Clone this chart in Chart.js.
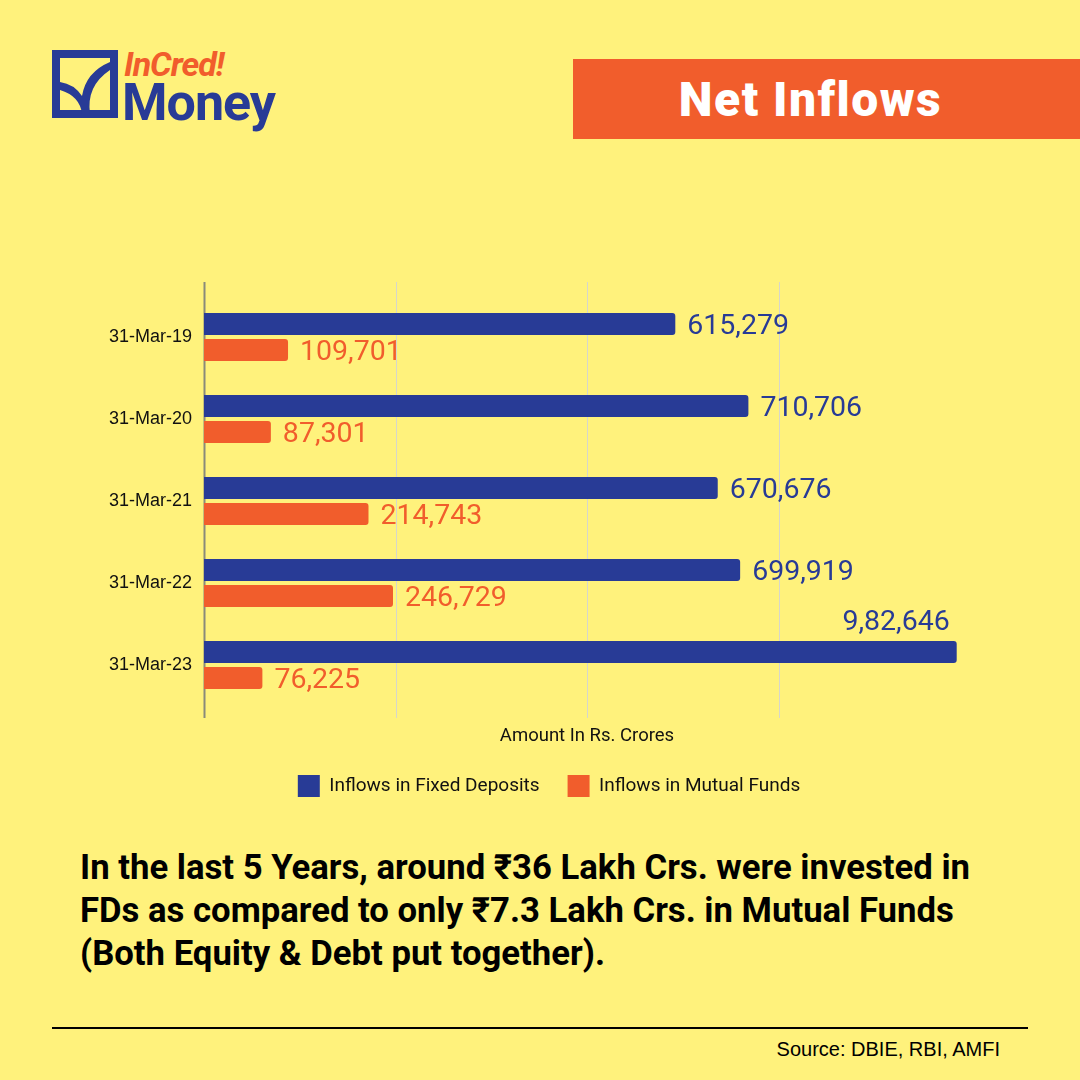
<!DOCTYPE html>
<html>
<head>
<meta charset="utf-8">
<script src="https://cdn.jsdelivr.net/npm/chart.js@4.4.0/dist/chart.umd.min.js"></script>
<style>
  html, body { margin: 0; padding: 0; }
  body { width: 1080px; height: 1080px; background: #fff27c; position: relative; overflow: hidden; font-family: Roboto, "Noto Sans", sans-serif; }
  .logo { position: absolute; left: 52px; top: 50px; }
  .brand1 { position: absolute; left: 124px; top: 44px; font: italic 700 34px Roboto, sans-serif; color: #f15d2c; letter-spacing: -1px; }
  .brand2 { position: absolute; left: 122px; top: 72px; font: 700 52px Roboto, sans-serif; color: #283b96; letter-spacing: -1px; }
  .banner { position: absolute; left: 573px; top: 59px; width: 507px; height: 80px; background: #f15d2c; }
  .banner span { position: absolute; left: 0; width: 475px; top: 12px; text-align: center; color: #fff; font: 900 48px Roboto, sans-serif; letter-spacing: 1.5px; }
  #wrap { position: absolute; left: 0; top: 270px; width: 1080px; height: 537px; }
  .note { position: absolute; left: 80px; top: 846px; font: 700 34.7px Roboto, "Noto Sans", sans-serif; line-height: 43px; color: #000; }
  .rule { position: absolute; left: 52px; top: 1027px; width: 976px; height: 2px; background: #000; }
  .src { position: absolute; right: 80px; top: 1038px; font: 20px "Liberation Sans", Arial, sans-serif; color: #000; }
</style>
</head>
<body>
<svg class="logo" width="66" height="68" viewBox="0 0 66 68">
  <rect x="4" y="4" width="58" height="60" fill="none" stroke="#283b96" stroke-width="8"/>
  <path d="M8 40 Q 28 46 30 64 L 38 64 Q 34 36 58 20 L 58 12 Q 34 22 30 46 Q 22 34 8 32 Z" fill="#283b96"/>
</svg>
<div class="brand1">InCred!</div>
<div class="brand2">Money</div>
<div class="banner"><span>Net Inflows</span></div>
<div id="wrap"><canvas id="chart"></canvas></div>
<div class="note">In the last 5 Years, around ₹36 Lakh Crs. were invested in<br>FDs as compared to only ₹7.3 Lakh Crs. in Mutual Funds<br>(Both Equity &amp; Debt put together).</div>
<div class="rule"></div>
<div class="src">Source: DBIE, RBI, AMFI</div>
<script>
const categories = ['31-Mar-19', '31-Mar-20', '31-Mar-21', '31-Mar-22', '31-Mar-23'];
const fdValues = [615279, 710706, 670676, 699919, 982646];
const mfValues = [109701, 87301, 214743, 246729, 76225];
const fdLabels = ['615,279', '710,706', '670,676', '699,919', '9,82,646'];
const mfLabels = ['109,701', '87,301', '214,743', '246,729', '76,225'];
const gridValues = [0, 250000, 500000, 750000];
const xMax = 1000000;

const BLUE = '#283b96';
const ORANGE = '#f15d2c';

// grid lines that run a bit past the plot area, like the original
const gridPlugin = {
  id: 'grid',
  beforeDatasetsDraw(chart) {
    const { ctx, chartArea, scales } = chart;
    ctx.save();
    gridValues.forEach((v, i) => {
      const x = Math.round(scales.x.getPixelForValue(v)) + 0.5;
      ctx.strokeStyle = i === 0 ? '#8a8a7a' : '#d6d6cc';
      ctx.lineWidth = i === 0 ? 2 : 1;
      ctx.beginPath();
      ctx.moveTo(x, chartArea.top - 14);
      ctx.lineTo(x, chartArea.bottom + 12);
      ctx.stroke();
    });
    ctx.restore();
  }
};

// value labels: after the bar end, or above it when there is no room
const labelPlugin = {
  id: 'barLabels',
  afterDatasetsDraw(chart) {
    const { ctx, chartArea } = chart;
    ctx.save();
    ctx.font = '28.5px Roboto, sans-serif';
    ctx.textBaseline = 'middle';
    chart.data.datasets.forEach((ds, di) => {
      const texts = di === 0 ? fdLabels : mfLabels;
      chart.getDatasetMeta(di).data.forEach((bar, i) => {
        const t = texts[i];
        const w = ctx.measureText(t).width;
        ctx.fillStyle = ds.backgroundColor;
        if (bar.x + 12 + w > chartArea.right) {
          ctx.textAlign = 'right';
          ctx.fillText(t, bar.x - 7, bar.y - 29);
        } else {
          ctx.textAlign = 'left';
          ctx.fillText(t, bar.x + 12, bar.y + 3);
        }
      });
    });
    ctx.restore();
  }
};

new Chart(document.getElementById('chart'), {
  type: 'bar',
  data: {
    labels: categories,
    datasets: [
      { label: 'Inflows in Fixed Deposits', data: fdValues, backgroundColor: BLUE, borderRadius: 3, borderSkipped: 'start' },
      { label: 'Inflows in Mutual Funds', data: mfValues, backgroundColor: ORANGE, borderRadius: 3, borderSkipped: 'start' }
    ]
  },
  options: {
    indexAxis: 'y',
    responsive: true,
    maintainAspectRatio: false,
    animation: false,
    categoryPercentage: 0.634,
    barPercentage: 0.846,
    layout: { padding: { top: 26, right: 110, left: 128, bottom: 0 } },
    scales: {
      x: {
        min: 0, max: xMax,
        afterFit(scale) { scale.height = 41; },
        grid: { display: false },
        border: { display: false },
        ticks: { display: false },
        title: { display: true, text: 'Amount In Rs. Crores', color: '#111', padding: { top: 0, bottom: 0 }, font: { family: 'Roboto', size: 18.5 } }
      },
      y: {
        afterFit(scale) { scale.width = 76; },
        grid: { display: false, drawTicks: false },
        border: { display: false },
        // mirrored so the labels are not clipped to the narrow axis box
        ticks: { mirror: true, crossAlign: 'near', padding: -95, color: '#111', font: { family: '"Liberation Sans", Arial', size: 18 } }
      }
    },
    plugins: {
      legend: {
        position: 'bottom',
        labels: { boxWidth: 22, boxHeight: 22, padding: 28, color: '#111', font: { family: 'Roboto', size: 19 } }
      },
      tooltip: { enabled: false }
    }
  },
  plugins: [gridPlugin, labelPlugin]
});
</script>
</body>
</html>
